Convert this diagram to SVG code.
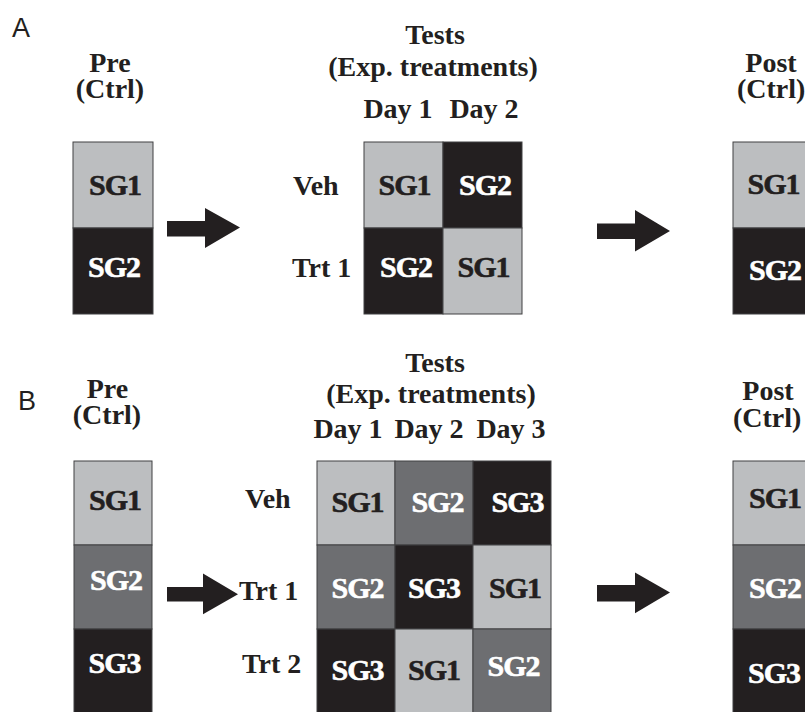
<svg xmlns="http://www.w3.org/2000/svg" width="805" height="712" viewBox="0 0 805 712">
<style>
.lbl{font-family:"Liberation Serif","Times New Roman",serif;font-weight:bold;font-size:28px;fill:#231f20;text-anchor:middle}
.lbs{font-family:"Liberation Serif","Times New Roman",serif;font-weight:bold;font-size:28px;fill:#231f20}
.pl{font-family:"Liberation Sans",Arial,sans-serif;font-size:27px;fill:#231f20}
.sg{font-family:"Liberation Serif","Times New Roman",serif;font-weight:bold;font-size:30px;text-anchor:middle;letter-spacing:-1px;stroke-width:0.6px}
.dk{fill:#231f20;stroke:#231f20}
.wt{fill:#ffffff;stroke:#ffffff}
.c1{fill:#bcbec0;stroke:#414042;stroke-width:1}
.c2{fill:#6d6e71;stroke:#414042;stroke-width:1}
.c3{fill:#231f20;stroke:#414042;stroke-width:1}
.arr{fill:#231f20}
</style>
<rect x="0" y="0" width="805" height="712" fill="#ffffff"/>

<!-- Panel A -->
<text class="pl" x="12" y="37">A</text>

<g id="A-pre">
<text class="lbl" x="110" y="72">Pre</text>
<text class="lbl" x="110" y="98">(Ctrl)</text>
<rect class="c1" x="73" y="142" width="80" height="86"/>
<rect class="c3" x="73" y="228" width="80" height="86"/>
<text class="sg dk" x="115" y="195">SG1</text>
<text class="sg wt" x="114" y="277">SG2</text>
</g>

<g id="A-tests">
<text class="lbl" x="435" y="44">Tests</text>
<text class="lbl" x="433" y="76">(Exp. treatments)</text>
<text class="lbl" x="398" y="118">Day 1</text>
<text class="lbl" x="484" y="118">Day 2</text>
<text class="lbs" x="293" y="195">Veh</text>
<text class="lbs" x="292" y="277">Trt 1</text>
<rect class="c1" x="364" y="142" width="79" height="86"/>
<rect class="c3" x="443" y="142" width="79" height="86"/>
<rect class="c3" x="364" y="228" width="79" height="86"/>
<rect class="c1" x="443" y="228" width="79" height="86"/>
<text class="sg dk" x="404.5" y="195">SG1</text>
<text class="sg wt" x="485" y="195">SG2</text>
<text class="sg wt" x="406" y="277">SG2</text>
<text class="sg dk" x="483.5" y="277">SG1</text>
</g>

<g id="A-post">
<text class="lbl" x="771" y="72">Post</text>
<text class="lbs" x="737" y="98">(Ctrl)</text>
<rect class="c1" x="733" y="142" width="80" height="86"/>
<rect class="c3" x="733" y="228" width="80" height="86"/>
<text class="sg dk" x="773.5" y="194">SG1</text>
<text class="sg wt" x="775" y="280">SG2</text>
</g>

<!-- Panel B -->
<text class="pl" x="18" y="410">B</text>

<g id="B-pre">
<text class="lbl" x="107.5" y="398">Pre</text>
<text class="lbl" x="107" y="424">(Ctrl)</text>
<rect class="c1" x="74" y="461" width="78" height="84"/>
<rect class="c2" x="74" y="545" width="78" height="84"/>
<rect class="c3" x="74" y="629" width="78" height="84"/>
<text class="sg dk" x="115" y="510">SG1</text>
<text class="sg wt" x="116" y="590">SG2</text>
<text class="sg wt" x="114.5" y="673">SG3</text>
</g>

<g id="B-tests">
<text class="lbl" x="435" y="372">Tests</text>
<text class="lbl" x="431" y="403">(Exp. treatments)</text>
<text class="lbl" x="348" y="438">Day 1</text>
<text class="lbl" x="429" y="438">Day 2</text>
<text class="lbl" x="511" y="438">Day 3</text>
<text class="lbs" x="245" y="508">Veh</text>
<text class="lbs" x="239" y="600">Trt 1</text>
<text class="lbs" x="242" y="673">Trt 2</text>
<rect class="c1" x="317" y="461" width="78" height="84"/>
<rect class="c2" x="395" y="461" width="78" height="84"/>
<rect class="c3" x="473" y="461" width="78" height="84"/>
<rect class="c2" x="317" y="545" width="78" height="84"/>
<rect class="c3" x="395" y="545" width="78" height="84"/>
<rect class="c1" x="473" y="545" width="78" height="84"/>
<rect class="c3" x="317" y="629" width="78" height="84"/>
<rect class="c1" x="395" y="629" width="78" height="84"/>
<rect class="c2" x="473" y="629" width="78" height="84"/>
<text class="sg dk" x="357.5" y="512">SG1</text>
<text class="sg wt" x="437.5" y="512">SG2</text>
<text class="sg wt" x="517.5" y="512">SG3</text>
<text class="sg wt" x="357.5" y="598">SG2</text>
<text class="sg wt" x="434" y="598">SG3</text>
<text class="sg dk" x="515" y="598">SG1</text>
<text class="sg wt" x="357.5" y="680">SG3</text>
<text class="sg dk" x="434" y="680">SG1</text>
<text class="sg wt" x="513.5" y="676">SG2</text>
</g>

<g id="B-post">
<text class="lbl" x="768" y="400">Post</text>
<text class="lbs" x="733" y="427">(Ctrl)</text>
<rect class="c1" x="733" y="461" width="80" height="84"/>
<rect class="c2" x="733" y="545" width="80" height="84"/>
<rect class="c3" x="733" y="629" width="80" height="84"/>
<text class="sg dk" x="775" y="508">SG1</text>
<text class="sg wt" x="775" y="598">SG2</text>
<text class="sg wt" x="774" y="683">SG3</text>
</g>

<g id="connectors">
<polygon class="arr" points="167,221 205,221 205,208 240,227.5 205,248 205,236.5 167,236.5"/>
<polygon class="arr" points="597,223.5 635,223.5 635,210 670,231 635,251.5 635,239 597,239"/>
<polygon class="arr" points="167,587 203,587 203,573.5 238,594.3 203,614.3 203,601.5 167,601.5"/>
<polygon class="arr" points="597,585 635,585 635,572.5 670,592.5 635,613.3 635,601.5 597,601.5"/>
</g>
</svg>
